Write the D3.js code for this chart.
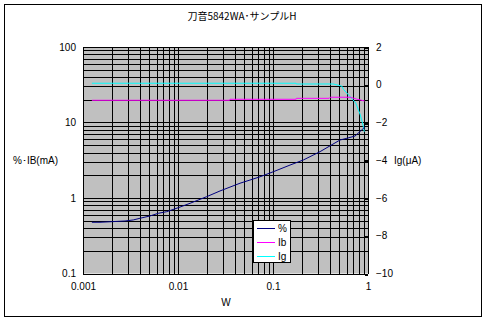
<!DOCTYPE html>
<html>
<head>
<meta charset="utf-8">
<script src="https://cdn.jsdelivr.net/npm/d3@7"></script>
<style>
  html, body { margin: 0; padding: 0; background: #fff; }
  svg { display: block; }
  text { font-family: "Liberation Sans", Arial, sans-serif; font-size: 10px; fill: #000; }
</style>
</head>
<body>
<svg id="chart" width="486" height="322"></svg>
<script>
// Efficiency-style sweep: % and Ib on the left log axis, Ig on the right linear axis
const title = "刀音5842WA･サンプルH";

const pctW = [0.00124, 0.00151, 0.00277, 0.00338, 0.00398, 0.00507, 0.0062, 0.0076, 0.0101, 0.0134, 0.020, 0.0277, 0.045, 0.0573, 0.073, 0.101, 0.151, 0.209, 0.313, 0.507, 0.60, 0.73, 0.859, 0.93];
const pct  = [0.477, 0.477, 0.496, 0.512, 0.539, 0.578, 0.627, 0.659, 0.745, 0.851, 1.04, 1.24, 1.57, 1.73, 1.91, 2.23, 2.73, 3.19, 4.11, 5.86, 6.18, 6.62, 7.96, 8.79];

const ibW = [0.00124, 0.035, 0.0352, 0.175, 0.176, 0.39, 0.40, 0.65, 0.76, 0.92];
const ib  = [19.7, 19.7, 20.3, 20.3, 20.9, 20.9, 21.6, 21.6, 20.4, 19.3];

const igW = [0.00124, 0.175, 0.176, 0.43, 0.53, 0.55, 0.65, 0.743, 0.824, 0.886, 0.914];
const ig  = [0.08, 0.08, 0.04, 0.04, -0.07, -0.24, -0.63, -0.97, -1.55, -2.13, -2.49];

const xTicks = [0.001, 0.01, 0.1, 1];
const xTickLabels = ["0.001", "0.01", "0.1", "1"];
const yTicks = [0.1, 1, 10, 100];
const yTickLabels = ["0.1", "1", "10", "100"];
const y2Ticks = [-10, -8, -6, -4, -2, 0, 2];

const legendNames = ["%", "Ib", "Ig"];
const seriesColors = ["#000080", "#ff00ff", "#00ffff"];

const svg = d3.select("#chart");
const plot = { left: 83, right: 368, top: 47, bottom: 273.5 };

const x = d3.scaleLog().domain([0.001, 1]).range([plot.left, plot.right]);
const y = d3.scaleLog().domain([0.1, 100]).range([plot.bottom, plot.top]);
const y2 = d3.scaleLinear().domain([-10, 2]).range([plot.bottom, plot.top]);

// outer chart frame
svg.append("rect").attr("x", 4.5).attr("y", 4.5).attr("width", 477).attr("height", 312)
  .attr("fill", "#fff").attr("stroke", "#000").attr("stroke-width", 1);

// plot background
svg.append("rect").attr("x", plot.left).attr("y", plot.top)
  .attr("width", plot.right - plot.left).attr("height", plot.bottom - plot.top)
  .attr("fill", "#c0c0c0");

// gridlines at every 1..9 step of each decade
const logSteps = (lo, hi) => {
  const out = [];
  for (let e = lo; e < hi; e++) for (let m = 1; m < 10; m++) out.push(m * Math.pow(10, e));
  out.push(Math.pow(10, hi));
  return out;
};
const grid = svg.append("g").attr("stroke", "#000").attr("stroke-width", 1).attr("shape-rendering", "crispEdges");
grid.selectAll("line.v").data(logSteps(-3, 0)).join("line").attr("class", "v")
  .attr("x1", d => Math.round(x(d)) + 0.5).attr("x2", d => Math.round(x(d)) + 0.5)
  .attr("y1", plot.top).attr("y2", plot.bottom);
grid.selectAll("line.h").data(logSteps(-1, 2)).join("line").attr("class", "h")
  .attr("y1", d => Math.round(y(d)) + 0.5).attr("y2", d => Math.round(y(d)) + 0.5)
  .attr("x1", plot.left).attr("x2", plot.right);

// axes
const xAxis = d3.axisBottom(x).tickValues(xTicks).tickFormat((d, i) => xTickLabels[i]).tickSize(0).tickPadding(9);
svg.append("g").attr("transform", `translate(0,${plot.bottom})`).call(xAxis)
  .call(g => g.select(".domain").remove());

const yAxis = d3.axisLeft(y).tickValues(yTicks).tickFormat((d, i) => yTickLabels[i]).tickSize(0).tickPadding(7);
svg.append("g").attr("transform", `translate(${plot.left},0)`).call(yAxis)
  .call(g => g.select(".domain").remove());

const y2Axis = d3.axisRight(y2).tickValues(y2Ticks).tickFormat(d => d < 0 ? "−" + Math.abs(d) : d).tickSize(0).tickPadding(8);
svg.append("g").attr("transform", `translate(${plot.right},0)`).call(y2Axis)
  .call(g => g.select(".domain").remove());

// short inward ticks on the right axis
svg.append("g").attr("stroke", "#000").attr("stroke-width", 2).attr("shape-rendering", "crispEdges")
  .selectAll("line").data(y2Ticks).join("line")
  .attr("x1", plot.right - 3).attr("x2", plot.right)
  .attr("y1", d => Math.round(y2(d)) + 0.5).attr("y2", d => Math.round(y2(d)) + 0.5);

svg.selectAll(".tick text").style("font-family", "'Liberation Sans', Arial, sans-serif").style("font-size", "10px");

// series
const line = (xs, ys, ys2scale) => d3.line().x((d, i) => x(xs[i])).y((d, i) => ys2scale(ys[i]))(ys);
svg.append("path").attr("d", line(igW, ig, y2)).attr("fill", "none").attr("stroke", seriesColors[2]).attr("stroke-width", 1);
svg.append("path").attr("d", line(ibW, ib, y)).attr("fill", "none").attr("stroke", seriesColors[1]).attr("stroke-width", 1);
svg.append("path").attr("d", line(pctW, pct, y)).attr("fill", "none").attr("stroke", seriesColors[0]).attr("stroke-width", 1);

// titles
svg.append("text").attr("x", 242).attr("y", 20).attr("text-anchor", "middle")
  .style("font-family", "'Noto Sans CJK JP', sans-serif").style("font-size", "10px").text(title);
svg.append("text").attr("x", 226).attr("y", 306).attr("text-anchor", "middle").text("W");
svg.append("text").attr("x", 13).attr("y", 164).text("%･IB(mA)");
svg.append("text").attr("x", 394).attr("y", 164).text("Ig(μA)");

// legend
const lg = svg.append("g").attr("transform", "translate(253,220)");
lg.append("rect").attr("x", 0.5).attr("y", 0.5).attr("width", 37).attr("height", 42)
  .attr("fill", "#fff").attr("stroke", "#000").attr("stroke-width", 1);
legendNames.forEach((n, i) => {
  const yy = 8 + i * 14;
  lg.append("line").attr("x1", 4).attr("x2", 22).attr("y1", yy + 0.5).attr("y2", yy + 0.5)
    .attr("stroke", seriesColors[i]).attr("stroke-width", 1);
  lg.append("text").attr("x", 25).attr("y", yy + 4).text(n);
});
</script>
</body>
</html>
